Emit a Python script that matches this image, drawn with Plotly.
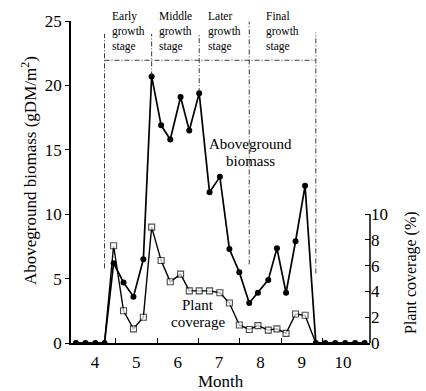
import plotly.graph_objects as go

# ---- data ----
month_x = [3.54, 3.77, 4.01, 4.23, 4.45, 4.69, 4.93, 5.17, 5.37, 5.60, 5.82,
           6.07, 6.28, 6.52, 6.77, 7.02, 7.25, 7.49, 7.73, 7.94, 8.19, 8.40,
           8.62, 8.85, 9.08, 9.34, 9.57, 9.81, 10.05, 10.29, 10.52]
biomass = [0, 0, 0, 0, 6.2, 4.7, 3.6, 6.5, 20.7, 16.9, 15.8,
           19.1, 16.5, 19.4, 11.7, 12.9, 7.3, 5.5, 3.1, 3.9, 4.9, 7.35,
           3.9, 7.9, 12.2, 0, 0, 0, 0, 0, 0]
coverage = [0, 0, 0, 0, 7.55, 2.5, 1.1, 2.0, 9.0, 6.4, 4.75,
            5.35, 4.05, 4.05, 4.05, 3.9, 3.1, 1.4, 1.05, 1.35, 1.0, 1.1,
            0.75, 2.25, 2.15, 0, 0, 0, 0, 0, 0]
month_ticks = [4, 5, 6, 7, 8, 9, 10]
month_labels = ["4", "5", "6", "7", "8", "9", "10"]
biomass_ticks = [0, 5, 10, 15, 20, 25]
coverage_ticks = [0, 2, 4, 6, 8, 10]
stage_bounds = [4.23, 5.37, 6.52, 7.73, 9.34]
stage_names = ["Early<br>growth<br>stage", "Middle<br>growth<br>stage",
               "Later<br>growth<br>stage", "Final<br>growth<br>stage"]

FONT = "Liberation Serif, Times New Roman, serif"
PX_PER_UNIT = 328 / 25.0  # plot height / y-range


def py_to_y(px_from_bottom_axis):
    return px_from_bottom_axis / PX_PER_UNIT


fig = go.Figure()

fig.add_trace(go.Scatter(
    x=month_x, y=coverage, yaxis="y2", mode="lines+markers",
    line=dict(color="black", width=1.4),
    marker=dict(symbol="square", size=[0 if v == 0 else 6 for v in coverage],
                color="white", line=dict(color="black", width=1.1)),
    showlegend=False, hoverinfo="skip"))

fig.add_trace(go.Scatter(
    x=month_x, y=biomass, mode="lines+markers",
    line=dict(color="black", width=1.7),
    marker=dict(symbol="circle", size=6, color="black"),
    showlegend=False, hoverinfo="skip"))

shapes = []
dash = "5px,2px,1px,2px"
tops = [24.0, 24.0, 24.0, 24.95, 24.1]
bottoms = [5.8, biomass[month_x.index(5.37)], biomass[month_x.index(6.52)], 6.1, 5.4]
for xb, yt, yb in zip(stage_bounds, tops, bottoms):
    shapes.append(dict(type="line", xref="x", yref="y", x0=xb, x1=xb, y0=yb, y1=yt,
                       line=dict(color="#222", width=0.9, dash=dash)))
shapes.append(dict(type="line", xref="x", yref="y", x0=stage_bounds[0], x1=stage_bounds[-1],
                   y0=21.95, y1=21.95, line=dict(color="#222", width=0.9, dash=dash)))
# partial right axis line (0-10)
shapes.append(dict(type="line", xref="paper", yref="y2", x0=1, x1=1, y0=0, y1=10,
                   line=dict(color="black", width=1.5)))

annotations = []
for i, txt in enumerate(stage_names):
    xc = (stage_bounds[i] + stage_bounds[i + 1]) / 2
    annotations.append(dict(x=xc, y=py_to_y(317), xref="x", yref="y", text=txt,
                            showarrow=False, align="left",
                            font=dict(family=FONT, size=11.5, color="black"),
                            xanchor="center", yanchor="middle"))

for txt, xx, yy in [("Aboveground", 7.75, 203), ("biomass", 7.75, 185),
                    ("Plant", 6.49, 39), ("coverage", 6.49, 21)]:
    annotations.append(dict(x=xx, y=py_to_y(yy), xref="x", yref="y", text=txt,
                            showarrow=False, font=dict(family=FONT, size=15, color="black"),
                            xanchor="center", yanchor="middle"))

annotations.append(dict(x=0.5, y=0, xref="paper", yref="paper", text="Month", showarrow=False,
                        yshift=-38, yanchor="middle", font=dict(family=FONT, size=17, color="black")))
annotations.append(dict(x=0, y=0.5, xref="paper", yref="paper",
                        text="Aboveground biomass (gDM/m<sup>2</sup>)", showarrow=False,
                        textangle=-90, xshift=-42, yshift=11, xanchor="center", yanchor="middle",
                        font=dict(family=FONT, size=17, color="black")))
annotations.append(dict(x=1, y=0.5, xref="paper", yref="paper",
                        text="Plant coverage (%)", showarrow=False,
                        textangle=-90, xshift=41, yshift=-91, xanchor="center", yanchor="middle",
                        font=dict(family=FONT, size=16, color="black")))

fig.update_layout(
    width=426, height=391,
    margin=dict(l=71, r=56, t=15, b=48),
    plot_bgcolor="white", paper_bgcolor="white",
    font=dict(family=FONT, color="black"),
    xaxis=dict(range=[3.42, 10.65], tickvals=month_ticks, ticktext=month_labels, ticks="",
               showline=True, linecolor="black", linewidth=1.5, showgrid=False, zeroline=False,
               tickfont=dict(family=FONT, size=17), ticklabelstandoff=3,
               minor=dict(tickvals=[4.5, 5.5, 6.5, 7.5, 8.5, 9.5], ticks="inside",
                          ticklen=5, tickcolor="black", tickwidth=1, showgrid=False)),
    yaxis=dict(range=[0, 25], tickvals=biomass_ticks, ticks="outside", ticklen=4,
               tickcolor="black", showline=True, linecolor="black", linewidth=1.5,
               showgrid=False, zeroline=False, tickfont=dict(family=FONT, size=17)),
    yaxis2=dict(range=[0, 25], overlaying="y", side="right", tickvals=coverage_ticks,
                ticks="inside", ticklen=5, tickcolor="black", showline=False,
                showgrid=False, zeroline=False, tickfont=dict(family=FONT, size=17)),
    shapes=shapes, annotations=annotations,
)

fig.write_html("out.html", config={"displayModeBar": False},
               post_script="document.body.style.margin='0';document.body.style.padding='0';")
